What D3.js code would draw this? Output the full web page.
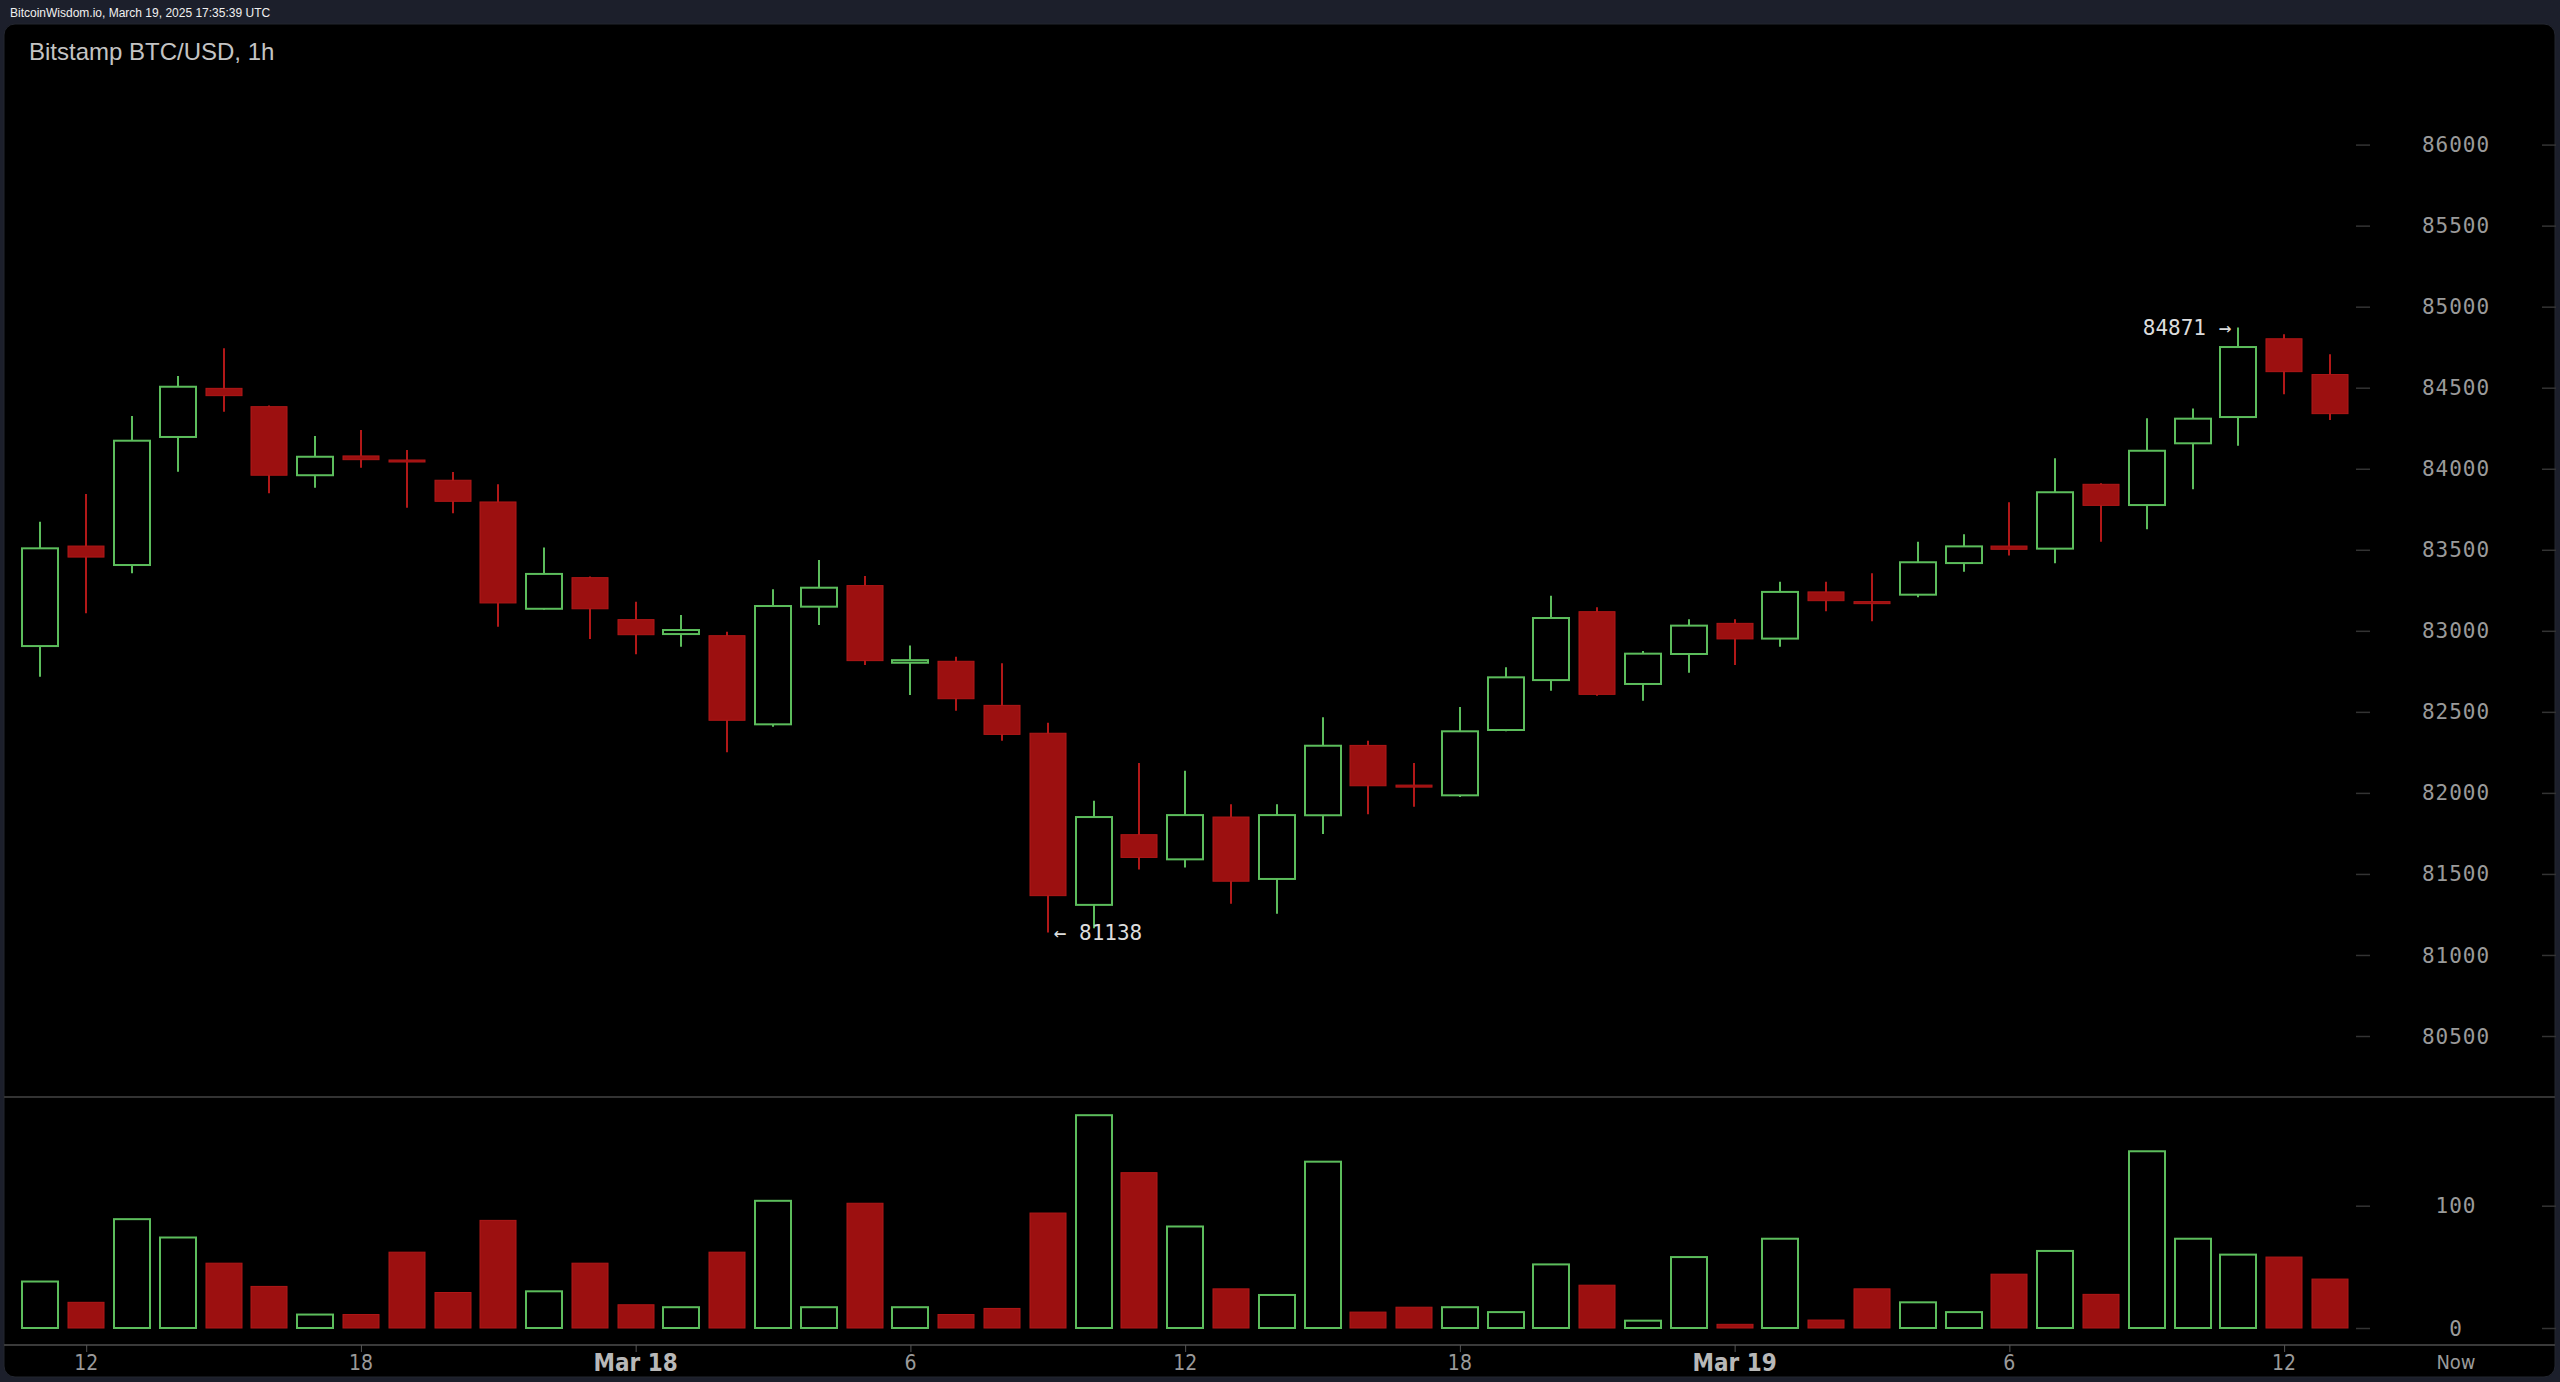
<!DOCTYPE html>
<html>
<head>
<meta charset="utf-8">
<script src="https://cdn.jsdelivr.net/npm/d3@7"></script>
<style>
html,body{margin:0;padding:0;background:#1c1f2b;overflow:hidden;}
svg{display:block;}
</style>
</head>
<body>
<svg id="chart" width="2560" height="1382"></svg>
<script>
// ---- data (hourly candles, UTC) ----
const times = [
 "2025-03-17T11:00Z","2025-03-17T12:00Z","2025-03-17T13:00Z","2025-03-17T14:00Z","2025-03-17T15:00Z",
 "2025-03-17T16:00Z","2025-03-17T17:00Z","2025-03-17T18:00Z","2025-03-17T19:00Z","2025-03-17T20:00Z",
 "2025-03-17T21:00Z","2025-03-17T22:00Z","2025-03-17T23:00Z","2025-03-18T00:00Z","2025-03-18T01:00Z",
 "2025-03-18T02:00Z","2025-03-18T03:00Z","2025-03-18T04:00Z","2025-03-18T05:00Z","2025-03-18T06:00Z",
 "2025-03-18T07:00Z","2025-03-18T08:00Z","2025-03-18T09:00Z","2025-03-18T10:00Z","2025-03-18T11:00Z",
 "2025-03-18T12:00Z","2025-03-18T13:00Z","2025-03-18T14:00Z","2025-03-18T15:00Z","2025-03-18T16:00Z",
 "2025-03-18T17:00Z","2025-03-18T18:00Z","2025-03-18T19:00Z","2025-03-18T20:00Z","2025-03-18T21:00Z",
 "2025-03-18T22:00Z","2025-03-18T23:00Z","2025-03-19T00:00Z","2025-03-19T01:00Z","2025-03-19T02:00Z",
 "2025-03-19T03:00Z","2025-03-19T04:00Z","2025-03-19T05:00Z","2025-03-19T06:00Z","2025-03-19T07:00Z",
 "2025-03-19T08:00Z","2025-03-19T09:00Z","2025-03-19T10:00Z","2025-03-19T11:00Z","2025-03-19T12:00Z",
 "2025-03-19T13:00Z"];
const open  = [82906,83523,83406,84196,84496,84383,83960,84079,84054,83929,83795,83136,83328,83069,82980,
               82970,82423,83149,83279,82803,82812,82540,82368,81309,81742,81590,81851,81469,81862,82293,
               82048,81985,82388,82696,83118,82672,82857,83046,82952,83240,83180,83223,83418,83523,83507,
               83904,83776,84157,84319,84802,84581];
const high  = [83673,83844,84325,84572,84743,84390,84202,84239,84116,83980,83905,83514,83335,83180,83098,
               82995,83256,83437,83338,82910,82840,82800,82433,81952,82184,82137,81930,81930,82466,82322,
               82184,82530,82775,83217,83145,82875,83071,83071,83303,83303,83355,83550,83596,83793,84064,
               83910,84311,84371,84871,84830,84706];
const low   = [82717,83108,83355,83982,84352,83849,83883,84006,83760,83725,83025,83130,82950,82855,82902,
               82250,82408,83036,82789,82604,82507,82322,81138,81165,81528,81539,81316,81255,81746,81868,
               81915,81975,82380,82630,82600,82569,82742,82789,82902,83120,83059,83207,83365,83464,83417,
               83550,83626,83873,84142,84459,84301];
const close = [83509,83455,84173,84506,84451,83960,84074,84056,84043,83799,83172,83351,83136,82976,83005,
               82448,83153,83266,82816,82819,82581,82361,81366,81851,81602,81863,81455,81863,82291,82044,
               82040,82380,82713,83079,82608,82859,83032,82950,83240,83186,83172,83423,83521,83503,83855,
               83774,84111,84309,84751,84599,84340];
const volume= [38,21,89,74,53,34,11,11,62,29,88,30,53,19,17,
               62,104,17,102,17,11,16,94,174,127,83,32,27,136,13,
               17,17,13,52,35,6,58,3,73,6.5,32,21,13,44,63,
               27.5,144.5,73,60,58,40];
const priceTicks  = [80500,81000,81500,82000,82500,83000,83500,84000,84500,85000,85500,86000];
const volumeTicks = [0,100];
const timeTicks   = ["2025-03-17T12:00Z","2025-03-17T18:00Z","2025-03-18T00:00Z","2025-03-18T06:00Z",
                     "2025-03-18T12:00Z","2025-03-18T18:00Z","2025-03-19T00:00Z","2025-03-19T06:00Z",
                     "2025-03-19T12:00Z"];
const titleText  = "Bitstamp BTC/USD, 1h";
const headerText = "BitcoinWisdom.io, March 19, 2025 17:35:39 UTC";
const nowLabel   = "Now";

// ---- build ----
const data = times.map((t,i)=>({t:new Date(t),o:open[i],h:high[i],l:low[i],c:close[i],v:volume[i]}));

const GREEN = "#5cbd5c", RED_FILL = "#9c1010", RED_STROKE = "#b11818";
const svg = d3.select("#chart");

const x = d3.scaleTime()
  .domain([data[0].t, data[data.length-1].t])
  .range([40.4, 40.4 + 50*45.79]);
const y = d3.scaleLinear().domain([80500,86000]).range([1036,144.6]);
const yv = d3.scaleLinear().domain([0,100]).range([1328,1205.7]);
const bodyW = 36;

// header text
svg.append("text").attr("x",10).attr("y",17).attr("fill","#f0f0f0")
  .attr("font-family","Liberation Sans, Arial, sans-serif").attr("font-size",12)
  .text(headerText);

// panel
svg.append("rect").attr("x",4).attr("y",24).attr("width",2551).attr("height",1353)
  .attr("rx",11).attr("fill","#000").attr("stroke","#23262f").attr("stroke-width",1);

// title
svg.append("text").attr("x",29).attr("y",60).attr("fill","#c4c4c4")
  .attr("font-family","Liberation Sans, Arial, sans-serif").attr("font-size",24)
  .text(titleText);

// separators
svg.append("line").attr("x1",4).attr("x2",2555).attr("y1",1097).attr("y2",1097)
  .attr("stroke","#333").attr("stroke-width",2);
svg.append("line").attr("x1",4).attr("x2",2555).attr("y1",1345).attr("y2",1345)
  .attr("stroke","#3a3a3a").attr("stroke-width",2);

// price axis (right)
const monoFont = "DejaVu Sans Mono, monospace";
function drawRightAxis(scale, ticks){
  const g = svg.append("g");
  const axL = d3.axisRight(scale).tickValues(ticks).tickSize(14).tickFormat("");
  g.append("g").attr("transform","translate(2356,0)").call(axL)
    .call(s=>s.select(".domain").remove())
    .call(s=>s.selectAll("line").attr("stroke","#333").attr("stroke-width",1.5));
  g.append("g").attr("transform","translate(2542,0)").call(axL)
    .call(s=>s.select(".domain").remove())
    .call(s=>s.selectAll("line").attr("stroke","#333").attr("stroke-width",1.5));
  g.selectAll("text.lbl").data(ticks).join("text").attr("class","lbl")
    .attr("x",2456).attr("y",d=>scale(d)).attr("dy","0.36em")
    .attr("text-anchor","middle").attr("fill","#9a9a9a")
    .attr("font-family",monoFont).attr("font-size",21).attr("letter-spacing",1)
    .text(d=>d);
}
drawRightAxis(y, priceTicks);
drawRightAxis(yv, volumeTicks);

// time axis
const condFont = "DejaVu Sans Condensed, DejaVu Sans, sans-serif";
const tickDates = timeTicks.map(t=>new Date(t));
const xAxis = d3.axisBottom(x).tickValues(tickDates).tickSize(7).tickFormat("");
svg.append("g").attr("transform","translate(0,1345)").call(xAxis)
  .call(s=>s.select(".domain").remove())
  .call(s=>s.selectAll("line").attr("stroke","#555").attr("stroke-width",1));
svg.append("g").selectAll("text").data(tickDates).join("text")
  .attr("x",d=>x(d)).attr("y",1362).attr("dy","0.36em").attr("text-anchor","middle")
  .attr("font-family",condFont)
  .attr("font-stretch","condensed")
  .attr("font-size",d=>d.getUTCHours()===0?24:21)
  .attr("font-weight",d=>d.getUTCHours()===0?"bold":"normal")
  .attr("fill",d=>d.getUTCHours()===0?"#b8b8b8":"#9a9a9a")
  .text(d=>d.getUTCHours()===0 ? d3.utcFormat("%b %-d")(d) : d.getUTCHours());
svg.append("text").attr("x",2456).attr("y",1362).attr("dy","0.36em").attr("text-anchor","middle")
  .attr("font-family",condFont).attr("font-stretch","condensed")
  .attr("font-size",20).attr("fill","#9a9a9a").text(nowLabel);

// candles
const up = d=>d.c>=d.o;
const cg = svg.append("g");
cg.selectAll("line.wick").data(data).join("line").attr("class","wick")
  .attr("x1",d=>Math.round(x(d.t))).attr("x2",d=>Math.round(x(d.t)))
  .attr("y1",d=>y(d.h)).attr("y2",d=>y(d.l))
  .attr("stroke",d=>up(d)?GREEN:RED_STROKE).attr("stroke-width",2);
cg.selectAll("rect.body").data(data).join("rect").attr("class","body")
  .attr("x",d=>Math.round(x(d.t))-bodyW/2).attr("width",bodyW)
  .attr("y",d=>y(Math.max(d.o,d.c)))
  .attr("height",d=>Math.max(2,Math.abs(y(d.o)-y(d.c))))
  .attr("fill",d=>up(d)?"#000":RED_FILL)
  .attr("stroke",d=>up(d)?GREEN:RED_STROKE).attr("stroke-width",d=>up(d)?2:1);

// volume
svg.append("g").selectAll("rect").data(data).join("rect")
  .attr("x",d=>Math.round(x(d.t))-bodyW/2).attr("width",bodyW)
  .attr("y",d=>yv(d.v)).attr("height",d=>yv(0)-yv(d.v))
  .attr("fill",d=>up(d)?"#000":RED_FILL)
  .attr("stroke",d=>up(d)?GREEN:RED_STROKE).attr("stroke-width",d=>up(d)?2:1);

// high / low annotations
const hi = data.reduce((a,b)=>b.h>a.h?b:a);
const lo = data.reduce((a,b)=>b.l<a.l?b:a);
svg.append("text").attr("x",x(hi.t)-7).attr("y",y(hi.h)).attr("dy","0.36em")
  .attr("text-anchor","end").attr("fill","#dcdcdc").attr("font-family",monoFont)
  .attr("font-size",21).text(hi.h+" \u2192");
svg.append("text").attr("x",x(lo.t)+6).attr("y",y(lo.l)).attr("dy","0.36em")
  .attr("text-anchor","start").attr("fill","#dcdcdc").attr("font-family",monoFont)
  .attr("font-size",21).text("\u2190 "+lo.l);
</script>
</body>
</html>
